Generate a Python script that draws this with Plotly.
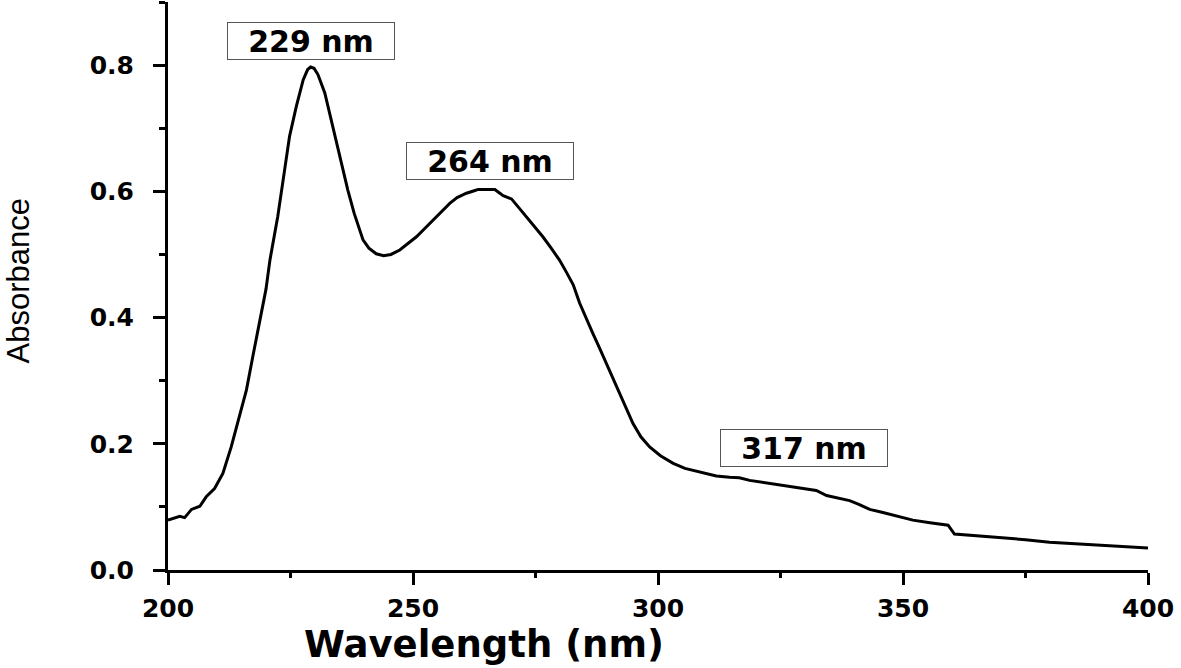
import plotly.graph_objects as go

wavelength = [200.0, 201.0, 202.4, 203.4, 204.8, 206.5, 207.8, 209.5, 211.2, 212.9, 214.6, 216.0,
              217.3, 218.7, 220.0, 220.8, 222.4, 223.8, 224.8, 226.2, 227.6, 228.5, 229.1, 229.8,
              230.6, 232.0, 233.3, 235.0, 236.7, 238.0, 239.1, 239.8, 241.0, 242.5, 244.0, 245.5,
              247.3, 249.0, 250.7, 252.5, 254.1, 256.0, 257.5, 259.0, 260.9, 262.5, 263.3, 265.0,
              266.7, 268.4, 270.1, 271.5, 273.1, 274.8, 276.5, 278.2, 279.9, 281.3, 282.7, 284.0,
              285.3, 286.7, 288.1, 289.5, 290.9, 292.2, 293.5, 294.9, 296.5, 298.3, 300.5, 303.1,
              305.5, 308.5, 311.9, 314.6, 316.6, 318.7, 322.0, 325.5, 329.0, 332.3, 334.4, 337.0,
              339.1, 341.0, 343.2, 345.9, 349.0, 352.0, 355.5, 359.2, 360.5, 365.0, 369.7, 375.0,
              379.9, 385.0, 390.1, 395.0, 400.0]
absorbance = [0.079, 0.082, 0.085, 0.083, 0.096, 0.101, 0.116, 0.129, 0.153, 0.195, 0.243, 0.285,
              0.338, 0.391, 0.445, 0.491, 0.560, 0.634, 0.687, 0.735, 0.777, 0.793, 0.797, 0.795,
              0.785, 0.756, 0.713, 0.655, 0.602, 0.565, 0.539, 0.523, 0.510, 0.501, 0.498, 0.500,
              0.507, 0.517, 0.528, 0.542, 0.555, 0.570, 0.581, 0.590, 0.597, 0.601, 0.603, 0.603,
              0.603, 0.593, 0.588, 0.575, 0.560, 0.545, 0.528, 0.510, 0.491, 0.472, 0.452, 0.423,
              0.399, 0.375, 0.351, 0.327, 0.303, 0.280, 0.256, 0.232, 0.211, 0.195, 0.181, 0.169,
              0.161, 0.155, 0.149, 0.147, 0.146, 0.142, 0.138, 0.134, 0.130, 0.126, 0.118, 0.114,
              0.110, 0.104, 0.096, 0.091, 0.085, 0.079, 0.075, 0.071, 0.057, 0.054, 0.052, 0.048,
              0.044, 0.042, 0.040, 0.038, 0.035]

peak_labels = ["229 nm", "264 nm", "317 nm"]
peak_label_x = [229.2, 265.7, 329.7]
peak_label_y = [0.839, 0.648, 0.194]

x_ticks = [200, 250, 300, 350, 400]
y_ticks = [0.0, 0.2, 0.4, 0.6, 0.8]

BOLD = "DejaVu Sans, Arial, sans-serif"

fig = go.Figure()
fig.add_trace(go.Scatter(x=wavelength, y=absorbance, mode="lines",
                         line=dict(color="black", width=3), showlegend=False,
                         hoverinfo="skip"))

for txt, lx, ly in zip(peak_labels, peak_label_x, peak_label_y):
    fig.add_annotation(x=lx, y=ly, xref="x", yref="y", text=txt, showarrow=False,
                       font=dict(family=BOLD, size=30, color="black", weight="bold"),
                       bordercolor="#555555", borderwidth=1, bgcolor="white",
                       width=164, height=34, align="center", valign="middle", borderpad=1)

fig.add_annotation(x=0.3224, y=-0.1303, xref="paper", yref="paper", text="Wavelength (nm)",
                   showarrow=False, xanchor="center", yanchor="middle",
                   font=dict(family=BOLD, size=37, color="black", weight="bold"))
fig.add_annotation(x=-0.153, y=0.508, xref="paper", yref="paper", text="Absorbance",
                   showarrow=False, textangle=-90, xanchor="center", yanchor="middle",
                   font=dict(family="Liberation Sans, Arial, sans-serif",
                             size=31, color="black"))

fig.update_xaxes(range=[200, 400], tickvals=x_ticks, ticktext=[str(v) for v in x_ticks],
                 showline=True, linecolor="black", linewidth=3,
                 ticks="outside", ticklen=12, tickwidth=3, tickcolor="black",
                 minor=dict(ticks="outside", ticklen=5, tickwidth=3, tickcolor="black", dtick=25, tick0=200),
                 tickfont=dict(family=BOLD, size=25, color="black", weight="bold"),
                 ticklabelstandoff=2,
                 showgrid=False, zeroline=False)
fig.update_yaxes(range=[0, 0.9], tickvals=y_ticks, ticktext=["%.1f" % v for v in y_ticks],
                 showline=True, linecolor="black", linewidth=3,
                 ticks="outside", ticklen=12, tickwidth=3, tickcolor="black",
                 minor=dict(ticks="outside", ticklen=6, tickwidth=3, tickcolor="black", dtick=0.1, tick0=0),
                 tickfont=dict(family=BOLD, size=25, color="black", weight="bold"),
                 ticklabelstandoff=14,
                 showgrid=False, zeroline=False)

fig.update_layout(width=1181, height=668, plot_bgcolor="white", paper_bgcolor="white",
                  margin=dict(l=168, r=33, t=2, b=98), showlegend=False)

fig.write_html("out.html", config={"displayModeBar": False},
               post_script="document.body.style.margin='0';document.body.style.overflow='hidden';")
